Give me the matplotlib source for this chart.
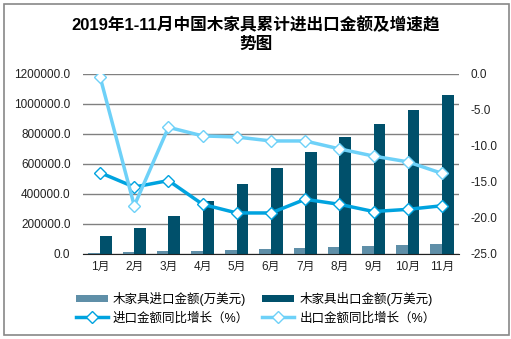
import numpy as np
import matplotlib.pyplot as plt
from matplotlib.patches import Rectangle

plt.rcParams['font.family'] = ['Liberation Sans', 'Noto Sans CJK SC', 'DejaVu Sans']

months = ["1月", "2月", "3月", "4月", "5月", "6月", "7月", "8月", "9月", "10月", "11月"]
import_amt = [10000, 12000, 17000, 22000, 30000, 36000, 42000, 49000, 55000, 62000, 69000]
export_amt = [122000, 174000, 254000, 355000, 467000, 574000, 682000, 782000, 868000, 962000, 1062000]
import_growth = [-13.7, -15.7, -14.8, -18.1, -19.3, -19.3, -17.4, -18.1, -19.1, -18.8, -18.3]
export_growth = [-0.4, -18.3, -7.4, -8.6, -8.75, -9.3, -9.3, -10.4, -11.4, -12.2, -13.8]

c_imp_bar = "#5F8FA8"
c_exp_bar = "#00506B"
c_imp_line = "#00A3DF"
c_exp_line = "#6ED1F8"

fig = plt.figure(figsize=(5.11, 3.39), dpi=100)
ax = fig.add_axes([83 / 511, 1 - 254 / 339, (459 - 83) / 511, 180 / 339])
ax2 = ax.twinx()

x = np.arange(len(months))
w = 0.34
b1 = ax.bar(x - w / 2, import_amt, w, color=c_imp_bar, label="木家具进口金额(万美元)", zorder=2)
b2 = ax.bar(x + w / 2, export_amt, w, color=c_exp_bar, label="木家具出口金额(万美元)", zorder=2)

l1, = ax2.plot(x, import_growth, color=c_imp_line, lw=2.5, marker="D", ms=6,
               mfc="white", mec=c_imp_line, mew=1, label="进口金额同比增长（%）")
l2, = ax2.plot(x, export_growth, color=c_exp_line, lw=2.5, marker="D", ms=6,
               mfc="white", mec=c_exp_line, mew=1, label="出口金额同比增长（%）")

ax.set_xlim(-0.5, len(months) - 0.5)
ax.set_ylim(0, 1200000)
ax.set_yticks(np.arange(0, 1200001, 200000))
ax.set_yticklabels([f"{v:.1f}" for v in np.arange(0, 1200001, 200000)])
ax2.set_ylim(-25, 0)
ax2.set_yticks(np.arange(-25, 0.1, 5))
ax2.set_yticklabels([f"{v:.1f}" for v in np.arange(-25, 0.1, 5)])
ax.set_xticks(x)
ax.set_xticklabels(months)

ax.grid(axis="y", color="#808080", lw=1, zorder=0)
for a in (ax, ax2):
    for s in ("top", "left", "right"):
        a.spines[s].set_visible(False)
    a.tick_params(length=0, labelsize=8.5, colors="#222222")
ax.spines["bottom"].set_color("#222222")
ax2.spines["bottom"].set_visible(False)
ax.tick_params(axis="y", pad=9)
ax2.tick_params(axis="y", pad=8)
ax.tick_params(axis="x", pad=5)

fig.text(0.5, 1 - 25 / 339, "2019年1-11月中国木家具累计进出口金额及增速趋", ha="center",
         va="center", fontsize=12, fontweight="bold")
fig.text(0.5, 1 - 44 / 339, "势图", ha="center", va="center", fontsize=12, fontweight="bold")

fig.legend([b1, l1, b2, l2], [b1.get_label(), l1.get_label(), b2.get_label(), l2.get_label()],
           ncol=2, loc="center", bbox_to_anchor=(0.5, 1 - 308 / 339),
           frameon=False, fontsize=9, handlelength=2.6, handleheight=0.5, columnspacing=1.0,
           labelspacing=0.5, handletextpad=0.4)

fig.patches.append(Rectangle((4 / 511, 4 / 339), 505 / 511, 331 / 339, transform=fig.transFigure,
                             fill=False, edgecolor="#888888", lw=1.2))

fig.savefig("out.png", dpi=100)
